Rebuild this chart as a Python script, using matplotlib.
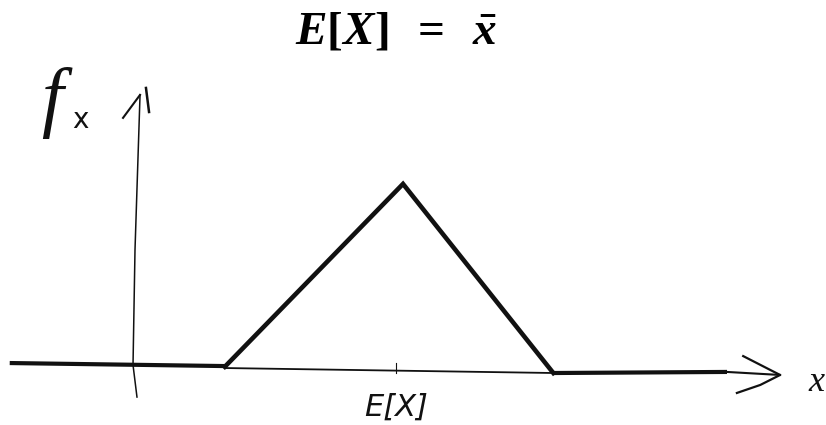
import matplotlib
matplotlib.use('Agg')
import matplotlib.pyplot as plt

# bold italic Times-like math for the heading
plt.rcParams['mathtext.fontset'] = 'custom'
plt.rcParams['mathtext.it'] = 'Liberation Serif:bold:italic'
plt.rcParams['mathtext.rm'] = 'Liberation Serif:bold'
plt.rcParams['mathtext.bf'] = 'Liberation Serif:bold'

###########
# SKETCH  #
###########

# triangular density: left foot, peak (the mean), right foot
tri_x = [1.02, 3.0, 4.67]
tri_y = [-0.01, 1.017, -0.045]

# horizontal axis, drawn in strokes (thick, thin, thick, thin)
base_left_x = [-1.37, 1.02]
base_left_y = [0.011, -0.006]
base_mid_x = [1.02, 4.67]
base_mid_y = [-0.017, -0.045]
base_right_x = [4.67, 6.6]
base_right_y = [-0.045, -0.039]
base_end_x = [6.6, 7.19]
base_end_y = [-0.039, -0.056]
x_head_x = [6.78, 7.19, 6.97, 6.71]
x_head_y = [0.05, -0.056, -0.112, -0.157]

# vertical axis with its arrow head
yax_x = [0.044, 0.0, 0.022, 0.078]
yax_y = [-0.18, 0.0, 0.646, 1.517]
y_barb_left_x = [-0.111, 0.078]
y_barb_left_y = [1.388, 1.517]
y_barb_right_x = [0.144, 0.178]
y_barb_right_y = [1.556, 1.421]

mean_x = 2.92

fig = plt.figure(figsize=(8.26, 4.25), dpi=100)
ax = fig.add_axes([0, 0, 1, 1])
ax.set_xlim(-1.478, 7.7)
ax.set_ylim(-0.337, 2.05)
ax.axis('off')

ink = '#111111'
ax.plot(base_left_x, base_left_y, color=ink, lw=3.0, solid_capstyle='butt')
ax.plot(base_mid_x, base_mid_y, color=ink, lw=1.3)
ax.plot(base_right_x, base_right_y, color=ink, lw=3.0, solid_capstyle='butt')
ax.plot(base_end_x, base_end_y, color=ink, lw=1.5)
ax.plot(x_head_x, x_head_y, color=ink, lw=1.6)
ax.plot(tri_x, tri_y, color=ink, lw=3.3, solid_joinstyle='miter')
ax.plot(yax_x, yax_y, color=ink, lw=1.1)
ax.plot(y_barb_left_x, y_barb_left_y, color=ink, lw=1.5)
ax.plot(y_barb_right_x, y_barb_right_y, color=ink, lw=1.8)
ax.plot([mean_x, mean_x], [0.011, -0.045], color=ink, lw=0.8)

# labels
ax.text(-0.9, 1.47, 'f', fontsize=56, family='Liberation Serif', style='italic',
        ha='center', va='center', color=ink)
ax.text(-0.58, 1.375, 'x', fontsize=20, family='DejaVu Sans',
        ha='center', va='center', color=ink)
ax.text(7.59, -0.096, 'x', fontsize=26, family='Liberation Serif', style='italic',
        ha='center', va='center', color=ink, clip_on=False)
ax.text(mean_x, -0.236, 'E[X]', fontsize=22, family='DejaVu Sans',
        style='italic', ha='center', va='center', color=ink)

fig.text(0.479, 0.927, r'$E[X]\;\;=\;\;\bar{x}$', fontsize=34, ha='center', va='center',
         color='black')

fig.savefig('out.png', dpi=100, facecolor='white')
